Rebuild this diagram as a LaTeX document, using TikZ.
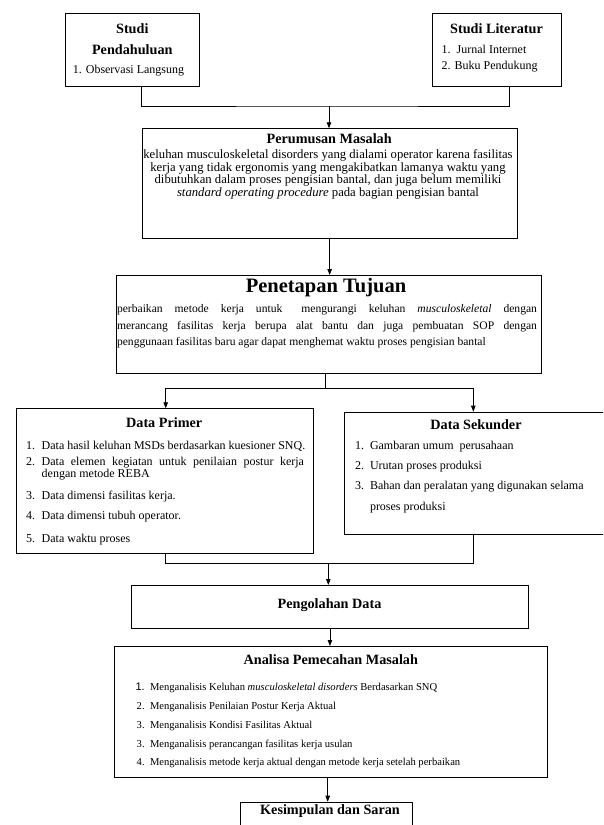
\documentclass[tikz,border=0pt]{standalone}
\usepackage{fontspec}
\setmainfont{Liberation Serif}
\newfontfamily\sansone{Liberation Sans}
\usetikzlibrary{arrows.meta}
\tikzset{
  box/.style={draw, line width=0.9pt, inner sep=0pt, anchor=north west},
  txt/.style={inner sep=0pt, outer sep=0pt},
  ttl/.style={txt, anchor=mid, font=\bfseries\fontsize{14.2}{15}\selectfont},
  bod/.style={txt, font=\fontsize{12}{12.5}\selectfont},
  bodl/.style={txt, anchor=mid, font=\fontsize{12.7}{12.5}\selectfont},
  bods/.style={txt, anchor=mid west, font=\fontsize{11.6}{12}\selectfont},
  sml/.style={txt, anchor=mid west, font=\fontsize{10.6}{11}\selectfont},
  conn/.style={line width=0.8pt},
  arr/.style={conn, -{Triangle[length=6pt,width=4.5pt]}},
}
\begin{document}
\begin{tikzpicture}[x=1pt,y=-1pt]
\fill[white] (0,0) rectangle (603,825);
\clip (0,0) rectangle (603,825);

% boxes
\node[box, minimum width=133.8pt, minimum height=73.3pt] (pend) at (65.4,12.7) {};
\node[box, minimum width=128.4pt, minimum height=72.7pt] (lit) at (432.3,13.3) {};
\node[box, minimum width=375pt, minimum height=110pt] (perum) at (141.7,128.3) {};
\node[box, minimum width=424.7pt, minimum height=98.3pt] (penet) at (116,275) {};
\node[box, minimum width=297pt, minimum height=145pt] (prim) at (15.7,408.3) {};
\node[box, minimum width=263pt, minimum height=122.3pt] (sek) at (344.3,411.7) {};
\node[box, minimum width=397.6pt, minimum height=42.7pt] (peng) at (130.7,585) {};
\node[box, minimum width=432.7pt, minimum height=131.3pt] (anal) at (114,646) {};
\node[box, minimum width=171.7pt, minimum height=40pt] (kes) at (240,801.7) {};

% Studi Pendahuluan
\node[ttl] (t1a) at (132.3,31.7) {Studi};
\node[ttl] (t1b) at (132.3,52.7) {Pendahuluan};
\node[bod, anchor=mid] (t1c) at (128.5,71.7) {1. Observasi Langsung};

% Studi Literatur
\node[ttl] (t2a) at (496.5,31.7) {Studi Literatur};
\node[bod, anchor=mid west] (t2b) at (441.7,51.7) {1.\ \ Jurnal Internet};
\node[bod, anchor=mid west] (t2c) at (441.7,67.7) {2. Buku Pendukung};

% Perumusan Masalah
\node[ttl] (t3a) at (329.2,141.7) {Perumusan Masalah};
\node[bodl] (t3b) at (328,156.7) {keluhan musculoskeletal disorders yang dialami operator karena fasilitas};
\node[bodl] (t3c) at (328,169.3) {kerja yang tidak ergonomis yang mengakibatkan lamanya waktu yang};
\node[bodl] (t3d) at (328,181.7) {dibutuhkan dalam proses pengisian bantal, dan juga belum memiliki};
\node[bodl] (t3e) at (328,194) {\textit{standard operating procedure} pada bagian pengisian bantal};

% Penetapan Tujuan
\node[txt, anchor=mid, font=\bfseries\fontsize{20.5}{22}\selectfont] (t4a) at (326,290) {Penetapan Tujuan};
\node[bods] (t4b) at (117,310) {\makebox[420pt][s]{perbaikan metode kerja untuk\hspace{7pt} mengurangi keluhan \textit{musculoskeletal} dengan}};
\node[bods] (t4c) at (117,327) {\makebox[420pt][s]{merancang fasilitas kerja berupa alat bantu dan juga pembuatan SOP dengan}};
\node[bods] (t4d) at (117,343) {penggunaan fasilitas baru agar dapat menghemat waktu proses pengisian bantal};

% Data Primer
\node[ttl] (t5a) at (164.2,425) {Data Primer};
\node[bod, anchor=mid west] (n51) at (26,447.3) {1.};
\node[bod, anchor=mid west] (t51) at (41.7,447.3) {Data hasil keluhan MSDs berdasarkan kuesioner SNQ.};
\node[bod, anchor=mid west] (n52) at (26,462.7) {2.};
\node[bod, anchor=mid west] (t52) at (41.7,462.7) {\makebox[262.3pt][s]{Data elemen kegiatan untuk penilaian postur kerja}};
\node[bod, anchor=mid west] (t52b) at (41.7,475) {dengan metode REBA};
\node[bod, anchor=mid west] (n53) at (26,496.7) {3.};
\node[bod, anchor=mid west] (t53) at (41.7,496.7) {Data dimensi fasilitas kerja.};
\node[bod, anchor=mid west] (n54) at (26,516.7) {4.};
\node[bod, anchor=mid west] (t54) at (41.7,516.7) {Data dimensi tubuh operator.};
\node[bod, anchor=mid west] (n55) at (26,540) {5.};
\node[bod, anchor=mid west] (t55) at (41.7,540) {Data waktu proses};

% Data Sekunder
\node[ttl] (t6a) at (476,426.7) {Data Sekunder};
\node[bod, anchor=mid west] (n61) at (355,447.3) {1.};
\node[bod, anchor=mid west] (t61) at (370,447.3) {Gambaran umum\ \ perusahaan};
\node[bod, anchor=mid west] (n62) at (355,467.3) {2.};
\node[bod, anchor=mid west] (t62) at (370,467.3) {Urutan proses produksi};
\node[bod, anchor=mid west] (n63) at (355,487.3) {3.};
\node[bod, anchor=mid west] (t63) at (370,487.3) {Bahan dan peralatan yang digunakan selama};
\node[bod, anchor=mid west] (t63b) at (370,508.3) {proses produksi};

% Pengolahan Data
\node[ttl] (t7a) at (329.5,606.3) {Pengolahan Data};

% Analisa Pemecahan Masalah
\node[ttl] (t8a) at (330.8,662.5) {Analisa Pemecahan Masalah};
\node[sml, font=\sansone\fontsize{11}{11}\selectfont] (n81) at (135.5,688.3) {1.};
\node[sml] (t81) at (150,688.3) {Menganalisis Keluhan \textit{musculoskeletal disorders} Berdasarkan SNQ};
\node[sml] (n82) at (136.7,706.7) {2.};
\node[sml] (t82) at (150,706.7) {Menganalisis Penilaian Postur Kerja Aktual};
\node[sml] (n83) at (136.7,726) {3.};
\node[sml] (t83) at (150,726) {Menganalisis Kondisi Fasilitas Aktual};
\node[sml] (n84) at (136.7,745) {3.};
\node[sml] (t84) at (150,745) {Menganalisis perancangan fasilitas kerja usulan};
\node[sml] (n85) at (136.7,763.3) {4.};
\node[sml] (t85) at (150,763.3) {Menganalisis metode kerja aktual dengan metode kerja setelah perbaikan};

% Kesimpulan dan Saran
\node[ttl] (t9a) at (330,811.7) {Kesimpulan dan Saran};

% connectors
\coordinate (j1) at (329,106);
\draw[conn] ([xshift=8.5pt]pend.south) |- (j1) -| ([xshift=12.5pt]lit.south);
\draw[arr] (j1) -- (j1 |- perum.north);

\draw[arr] (perum.south) -- (perum.south |- penet.north);

\coordinate (j2) at (325,388.3);
\coordinate (pa) at (165.7,388.3);
\coordinate (sa) at (473.3,388.3);
\draw[conn] (j2 |- penet.south) -- (j2);
\draw[conn] (pa) -- (sa);
\draw[arr] (pa) -- (pa |- prim.north);
\draw[arr] (sa) -- (sa |- sek.north);

\coordinate (j3) at (328.3,563.3);
\coordinate (pb) at (165,563.3);
\coordinate (sb) at (473.3,563.3);
\draw[conn] (pb |- prim.south) -- (pb) -- (sb) -- (sb |- sek.south);
\draw[arr] (j3) -- (j3 |- peng.north);

\draw[arr] (peng.south) -- (peng.south |- anal.north);

\coordinate (k) at (327.7,790);
\draw[arr] (k |- anal.south) -- (k |- kes.north);
\end{tikzpicture}
\end{document}
